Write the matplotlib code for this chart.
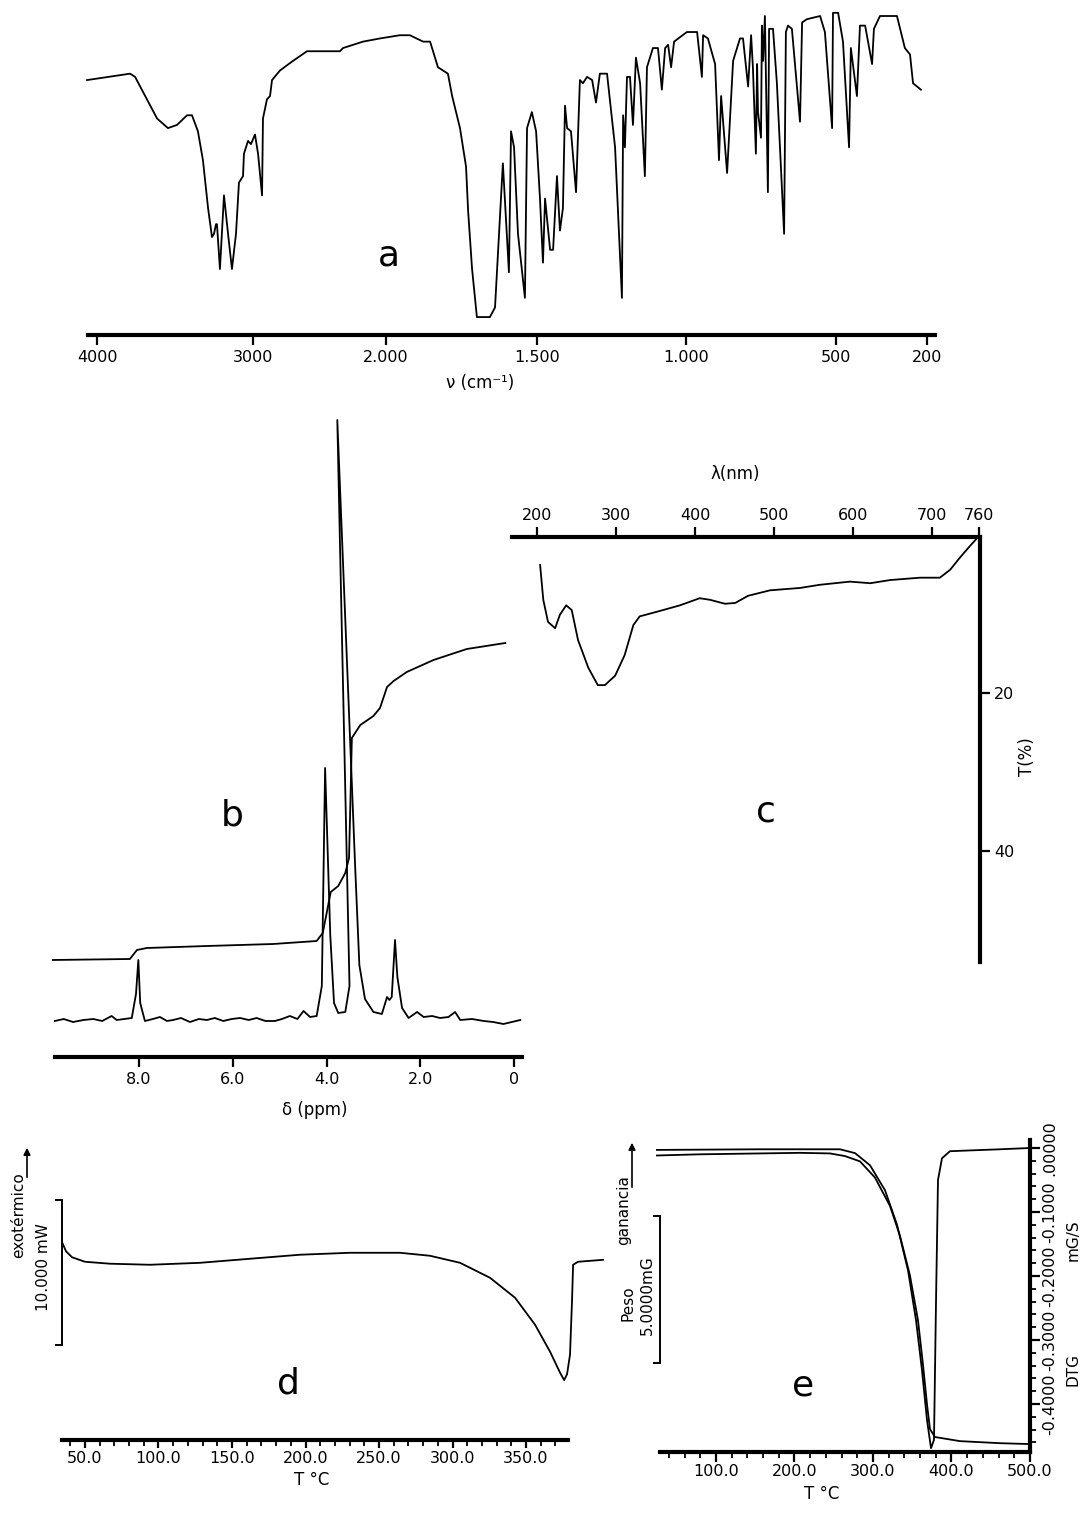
import numpy as np
import matplotlib.pyplot as plt
from matplotlib.ticker import FixedLocator

# ---------------- a: IR spectrum ----------------
ir_wn = [4064, 3788, 3756, 3680, 3615, 3545, 3487, 3423, 3391, 3353, 3321, 3288, 3263, 3250,
         3237, 3231, 3212, 3186, 3160, 3135, 3109, 3090, 3064, 3058, 3032, 3013, 2985, 2962,
         2932, 2925, 2895, 2872, 2857, 2797, 2699, 2594, 2496, 2346, 2323, 2173, 2045, 1954,
         1921, 1877, 1854, 1828, 1795, 1781, 1755, 1735, 1728, 1715, 1699, 1656, 1639, 1613,
         1593, 1586, 1576, 1563, 1540, 1533, 1517, 1503, 1490, 1480, 1473, 1456, 1446, 1433,
         1423, 1413, 1406, 1399, 1386, 1369, 1356, 1346, 1332, 1315, 1302, 1289, 1265, 1238,
         1215, 1211, 1205, 1198, 1188, 1178, 1168, 1154, 1138, 1131, 1111, 1094, 1081, 1070,
         1060, 1050, 1040, 997, 977, 963, 947, 943, 927, 903, 890, 883, 863, 843, 820, 810,
         793, 783, 777, 767, 763, 760, 750, 747, 743, 737, 727, 723, 710, 697, 673, 667, 660,
         647, 620, 613, 597, 553, 537, 513, 510, 493, 477, 457, 451, 431, 421, 404, 381, 375,
         355, 299, 273, 256, 246, 220]
ir_T = [78, 80, 79, 72, 66, 63, 64, 67, 67, 62, 53, 38, 29, 30,
        33, 33, 19, 42, 30, 19, 30, 46, 48, 55, 59, 58, 61, 55,
        42, 66, 72, 73, 78, 81, 84, 87, 87, 87, 88, 90, 91, 92,
        92, 90, 90, 82, 80, 73, 63, 51, 37, 19, 4, 4, 7, 52,
        18, 62, 57, 30, 10, 63, 68, 62, 41, 21, 41, 25, 25, 48,
        31, 38, 70, 63, 62, 43, 78, 77, 79, 78, 71, 80, 80, 57,
        10, 67, 57, 79, 79, 64, 85, 77, 48, 82, 88, 88, 75, 88,
        89, 82, 90, 93, 93, 93, 79, 92, 91, 83, 53, 73, 49, 84, 91, 91,
        76, 92, 82, 55, 83, 68, 60, 95, 84, 98, 43, 94, 94, 77, 30, 93, 95,
        94, 65, 96, 97, 98, 93, 63, 99, 99, 90, 57, 88, 73, 95, 95, 83, 94,
        98, 98, 88, 86, 77, 75]
ir_ticks = [4000, 3000, 2000, 1500, 1000, 500, 200]
ir_labels = ['4000', '3000', '2.000', '1.500', '1.000', '500', '200']
# chart paper scale (expanded below 2000 cm-1)
paper_wn = [4200, 4000, 3000, 2000, 1500, 1000, 500, 200, 0]
paper_pos = [66, 97, 253, 386, 537, 686, 836, 927, 988]

# ---------------- b: 1H NMR + integral ----------------
nmr_ppm = [9.79, 9.60, 9.40, 9.18, 8.97, 8.78, 8.58, 8.47, 8.15, 8.06, 8.01, 7.97, 7.87, 7.70,
           7.55, 7.40, 7.27, 7.10, 6.91, 6.72, 6.55, 6.38, 6.20, 6.02, 5.84, 5.66, 5.49, 5.30,
           5.10, 4.95, 4.78, 4.62, 4.49, 4.35, 4.21, 4.10, 4.03, 3.92, 3.84, 3.75, 3.60, 3.51,
           3.77, 3.39, 3.30, 3.18, 3.00, 2.82, 2.71, 2.66, 2.61, 2.54, 2.49, 2.39, 2.25, 2.07,
           1.93, 1.75, 1.58, 1.40, 1.26, 1.15, 0.90, 0.65, 0.45, 0.23, -0.13]
nmr_I = [-1, 1, -2, 0, 1, -1, 4, 0, 2, 26, 60, 17, -1, 1,
         3, -1, 0, 2, -2, 1, 0, 2, -1, 1, 2, 0, 2, -1,
         -1, 1, 4, 1, 9, 3, 4, 34, 252, 85, 17, 7, 8, 34,
         600, 154, 55, 21, 8, 6, 23, 20, 23, 80, 43, 12, 2, 8,
         3, 4, 2, 3, 8, 0, 1, -1, -2, -4, 0]
int_ppm = [9.84, 8.19, 8.04, 7.83, 6.55, 5.14, 4.21, 4.08, 3.98, 3.91, 3.75, 3.60, 3.52,
           3.48, 3.46, 3.28, 3.00, 2.86, 2.71, 2.57, 2.29, 1.72, 1.01, 0.19]
int_I = [60, 61, 70, 72, 74, 76, 79, 87, 111, 128, 134, 147, 162,
         239, 282, 295, 304, 312, 333, 339, 348, 360, 371, 377]
nmr_ticks = [8, 6, 4, 2, 0]
nmr_labels = ['8.0', '6.0', '4.0', '2.0', '0']

# ---------------- c: UV-vis ----------------
uv_nm = [204, 208, 214, 223, 229, 237, 244, 252, 265, 277, 286, 299, 311, 322, 330, 356,
         381, 406, 419, 438, 451, 467, 495, 533, 558, 596, 622, 647, 685, 710, 723, 735,
         748, 758]
uv_T = [3.8, 8.2, 11.0, 11.8, 10.1, 8.9, 9.5, 13.3, 16.8, 19.0, 19.0, 17.8, 15.2, 11.4, 10.3, 9.6,
        8.9, 8.0, 8.2, 8.7, 8.6, 7.7, 7.0, 6.7, 6.3, 5.9, 6.1, 5.7, 5.4, 5.4, 4.4, 2.9,
        1.4, 0.3]
uv_ticks = [200, 300, 400, 500, 600, 700, 760]
uv_yticks = [20, 40]

# ---------------- d: DSC ----------------
dsc_T = [34.4, 37.1, 41.2, 50, 67, 94.2, 128.2, 162.2, 196.3, 230.3, 264.3, 284.7, 305.1,
         325.5, 342.5, 356.1, 366.3, 373.1, 375.9, 377.9, 379.9, 381.3, 382.0, 385.4, 402.4]
dsc_mW = [1.3, 0.7, 0.3, 0.0, -0.13, -0.2, -0.07, 0.2, 0.47, 0.6, 0.6, 0.4, -0.07,
          -1.07, -2.4, -4.2, -6.0, -7.4, -7.9, -7.5, -6.2, -2.5, -0.2, 0.0, 0.13]
dsc_ticks = [50, 100, 150, 200, 250, 300, 350]
dsc_labels = ['50.0', '100.0', '150.0', '200.0', '250.0', '300.0', '350.0']

# ---------------- e: TGA / DTG ----------------
tga_T = [24.8, 79.6, 156.1, 207.0, 245.2, 264.3, 283.4, 302.5, 321.7, 334.4, 347.1, 357.3,
         363.7, 368.8, 372.6, 379.0, 410.8, 461.8, 500.0]
tga_mg = [10.00, 10.04, 10.07, 10.09, 10.07, 9.98, 9.80, 9.25, 8.28, 7.26, 5.91, 4.39,
          2.87, 1.52, 0.68, 0.41, 0.27, 0.20, 0.17]
dtg_T = [24.8, 156.1, 258.0, 277.1, 296.2, 315.3, 330.6, 344.6, 354.8, 362.4, 368.8, 373.9,
         377.7, 380.3, 382.8, 387.9, 398.1, 461.8, 500.0]
dtg_v = [-0.003, -0.002, -0.002, -0.008, -0.027, -0.066, -0.120, -0.191, -0.269, -0.347,
         -0.425, -0.469, -0.456, -0.238, -0.050, -0.016, -0.005, -0.002, 0.0]
tg_ticks = [100, 200, 300, 400, 500]
tg_labels = ['100.0', '200.0', '300.0', '400.0', '500.0']
dtg_ticks = [0, -0.1, -0.2, -0.3, -0.4]
dtg_labels = ['.00000', '-0.1000', '-0.2000', '-0.3000', '-0.4000']

W, H = 1091, 1513
fig = plt.figure(figsize=(W / 100, H / 100), dpi=100)
LW = 1.3
AXLW = 3.0
FS = 11.5


def panel(l, t, r, b):
    ax = fig.add_axes([l / W, 1 - b / H, (r - l) / W, (b - t) / H])
    ax.patch.set_alpha(0)
    for s in ax.spines.values():
        s.set_visible(False)
        s.set_linewidth(AXLW)
    return ax


def ftext(x, y, s, **kw):
    fig.text(x / W, 1 - y / H, s, **kw)


# a
pw = np.array(paper_wn, float)
pp = np.array(paper_pos, float)
fwd = lambda v: np.interp(-np.asarray(v, float), -pw, pp)
inv = lambda p: np.interp(np.asarray(p, float), pp, pw)
ax = panel(80, 0, 940, 335)
ax.set_xscale('function', functions=(fwd, inv))
ax.set_xlim(float(inv(940)), float(inv(80)))
ax.set_ylim(-1.6, 103)
ax.plot(ir_wn, ir_T, 'k', lw=LW)
ax.spines['bottom'].set_visible(True)
ax.spines['bottom'].set_bounds(4060, 173)
ax.xaxis.set_major_locator(FixedLocator(ir_ticks))
ax.set_xticklabels(ir_labels)
ax.xaxis.set_minor_locator(FixedLocator([]))
ax.set_yticks([])
ax.tick_params(axis='x', length=7, width=1.6, labelsize=FS, pad=4)
ftext(480, 383, 'ν (cm⁻¹)', ha='center', va='center', fontsize=12)
ftext(389, 255, 'a', ha='center', va='center', fontsize=26)

# b
ax = panel(52, 400, 525, 1057)
ax.set_xlim(9.85, -0.23)
ax.set_ylim(-37, 620)
ax.plot(nmr_ppm, nmr_I, 'k', lw=LW)
ax.plot(int_ppm, int_I, 'k', lw=LW)
ax.spines['bottom'].set_visible(True)
ax.spines['bottom'].set_bounds(9.79, -0.17)
ax.set_xticks(nmr_ticks)
ax.set_xticklabels(nmr_labels)
ax.set_yticks([])
ax.tick_params(axis='x', length=7, width=1.6, labelsize=FS, pad=4)
ftext(315, 1110, 'δ (ppm)', ha='center', va='center', fontsize=12)
ftext(232, 815, 'b', ha='center', va='center', fontsize=26)

# c
ax = panel(512, 537, 980, 962)
ax.set_xlim(168.4, 760.8)
ax.set_ylim(54.05, 0.25)
ax.plot(uv_nm, uv_T, 'k', lw=LW)
ax.spines['top'].set_visible(True)
ax.spines['right'].set_visible(True)
ax.xaxis.tick_top()
ax.yaxis.tick_right()
ax.set_xticks(uv_ticks)
ax.set_yticks(uv_yticks)
ax.tick_params(length=7, width=1.6, labelsize=FS, pad=3)
ftext(735, 474, 'λ(nm)', ha='center', va='center', fontsize=12)
ftext(1027, 757, 'T(%)', ha='center', va='center', fontsize=12, rotation=90)
ftext(766, 812, 'c', ha='center', va='center', fontsize=26)

# d
ax = panel(40, 1100, 610, 1440)
ax.set_xlim(19.4, 407.1)
ax.set_ylim(-11.9, 10.8)
ax.plot(dsc_T, dsc_mW, 'k', lw=LW)
ax.spines['bottom'].set_visible(True)
ax.spines['bottom'].set_bounds(34.4, 378.6)
ax.set_xticks(dsc_ticks)
ax.set_xticklabels(dsc_labels)
ax.xaxis.set_minor_locator(FixedLocator(np.arange(40, 380, 10)))
ax.tick_params(axis='x', which='major', length=6, width=1.6, labelsize=FS, pad=2)
ax.tick_params(axis='x', which='minor', length=4, width=1.3)
# 10 mW scale bar
ax.spines['left'].set_visible(True)
ax.spines['left'].set_linewidth(1.4)
ax.spines['left'].set_position(('data', 34.4))
ax.spines['left'].set_bounds(-5.53, 4.13)
ax.set_yticks([-5.53, 4.13])
ax.set_yticklabels([])
ax.tick_params(axis='y', length=5, width=1.4)
ax.annotate('', xy=(27 / W, 1 - 1145 / H), xytext=(27 / W, 1 - 1180 / H),
            xycoords='figure fraction', annotation_clip=False,
            arrowprops=dict(arrowstyle='-|>', color='k', lw=1.2))
ftext(19, 1215, 'exotérmico', ha='center', va='center', fontsize=11, rotation=90)
ftext(44, 1267, '10.000 mW', ha='center', va='center', fontsize=11, rotation=90)
ftext(312, 1480, 'T °C', ha='center', va='center', fontsize=12)
ftext(288, 1383, 'd', ha='center', va='center', fontsize=26)

# e
ax = panel(640, 1100, 1030, 1452)
ax.set_xlim(3.2, 500)
ax.set_ylim(-0.475, 0.075)
ax.plot(dtg_T, dtg_v, 'k', lw=LW)
ax.spines['bottom'].set_visible(True)
ax.spines['bottom'].set_bounds(28.7, 500)
ax.spines['right'].set_visible(True)
ax.spines['right'].set_bounds(-0.475, 0.0125)
ax.set_xticks(tg_ticks)
ax.set_xticklabels(tg_labels)
ax.xaxis.set_minor_locator(FixedLocator(np.arange(40, 500, 20)))
ax.yaxis.tick_right()
ax.set_yticks(dtg_ticks)
ax.set_yticklabels(dtg_labels, rotation=90, va='center')
ax.yaxis.set_minor_locator(FixedLocator(np.arange(-0.46, 0.001, 0.02)))
ax.tick_params(which='major', length=7, width=1.6, labelsize=FS, pad=2)
ax.tick_params(which='minor', length=4, width=1.3)

axw = panel(640, 1100, 1030, 1452)
axw.set_xlim(3.2, 500)
axw.set_ylim(-0.1, 11.89)
axw.plot(tga_T, tga_mg, 'k', lw=LW)
axw.set_xticks([])
axw.spines['left'].set_visible(True)
axw.spines['left'].set_linewidth(1.4)
axw.spines['left'].set_position(('data', 28.7))
axw.spines['left'].set_bounds(2.94, 7.94)
axw.set_yticks([2.94, 7.94])
axw.set_yticklabels([])
axw.tick_params(axis='y', length=5, width=1.4)
axw.annotate('', xy=(632 / W, 1 - 1140 / H), xytext=(632 / W, 1 - 1190 / H),
             xycoords='figure fraction', annotation_clip=False,
             arrowprops=dict(arrowstyle='-|>', color='k', lw=1.2))
ftext(624, 1210, 'ganancia', ha='center', va='center', fontsize=11, rotation=90)
ftext(628, 1303, 'Peso', ha='center', va='center', fontsize=11, rotation=90)
ftext(647, 1295, '5.0000mG', ha='center', va='center', fontsize=11, rotation=90)
ftext(1073, 1240, 'mG/S', ha='center', va='center', fontsize=11, rotation=90)
ftext(1073, 1370, 'DTG', ha='center', va='center', fontsize=11, rotation=90)
ftext(822, 1494, 'T °C', ha='center', va='center', fontsize=12)
ftext(803, 1385, 'e', ha='center', va='center', fontsize=26)

fig.savefig('out.png', dpi=100)
